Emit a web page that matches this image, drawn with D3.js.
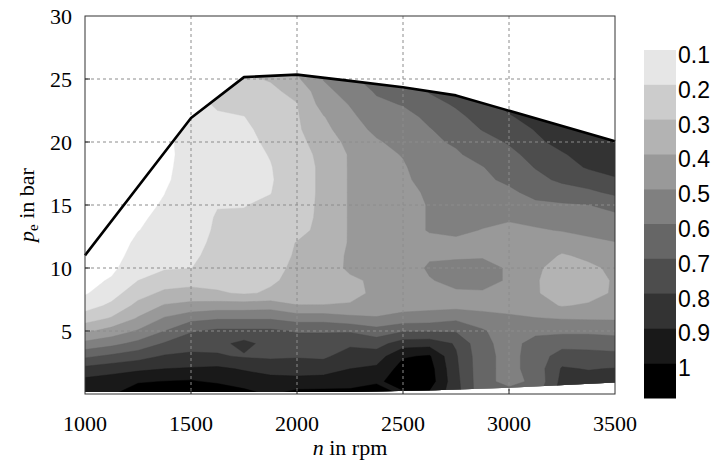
<!DOCTYPE html>
<html>
<head>
<meta charset="utf-8">
<script src="https://cdn.jsdelivr.net/npm/d3@7"></script>
<style>
  html, body { margin: 0; padding: 0; background: #fff; }
  svg { display: block; }
</style>
</head>
<body>
<div id="chart"></div>
<script>
// measurement grid: engine speed (rpm) x brake mean effective pressure (bar)
const rpmGrid = [1000, 1125, 1250, 1375, 1500, 1625, 1750, 1875, 2000, 2125, 2250,
                 2375, 2500, 2625, 2750, 2875, 3000, 3125, 3250, 3375, 3500];
const peGrid = [0, 1, 2, 3, 4, 5, 6, 7, 8, 9, 10, 11, 12, 13, 14, 15, 16, 17, 18, 19, 20,
                21, 22, 23, 24, 25, 26];

// one column per rpmGrid entry, values read at peGrid
const zColumns = [
  [0.97, 0.93, 0.83, 0.68, 0.53, 0.38, 0.25, 0.16, 0.09, 0.07, 0.06, 0.05, 0.05, 0.05, 0.05, 0.05, 0.05, 0.05, 0.05, 0.05, 0.05, 0.05, 0.05, 0.05, 0.05, 0.05, 0.05],
  [0.99, 0.95, 0.86, 0.72, 0.57, 0.44, 0.31, 0.22, 0.16, 0.11, 0.08, 0.07, 0.06, 0.06, 0.06, 0.06, 0.06, 0.06, 0.06, 0.06, 0.06, 0.06, 0.06, 0.06, 0.06, 0.06, 0.06],
  [1.06, 0.99, 0.88, 0.76, 0.63, 0.51, 0.41, 0.33, 0.26, 0.2, 0.16, 0.13, 0.115, 0.098, 0.09, 0.085, 0.08, 0.08, 0.08, 0.08, 0.08, 0.08, 0.08, 0.08, 0.08, 0.08, 0.08],
  [1.12, 1.002, 0.9, 0.81, 0.71, 0.6, 0.51, 0.41, 0.32, 0.25, 0.19, 0.16, 0.14, 0.125, 0.115, 0.105, 0.099, 0.09, 0.085, 0.08, 0.08, 0.08, 0.08, 0.08, 0.08, 0.08, 0.08],
  [1.15, 1.01, 0.91, 0.82, 0.76, 0.69, 0.57, 0.43, 0.34, 0.26, 0.198, 0.18, 0.165, 0.155, 0.145, 0.14, 0.135, 0.13, 0.13, 0.13, 0.135, 0.14, 0.15, 0.17, 0.19, 0.21, 0.23],
  [1.1, 0.98, 0.92, 0.81, 0.77, 0.72, 0.59, 0.45, 0.31, 0.27, 0.245, 0.235, 0.225, 0.215, 0.21, 0.195, 0.175, 0.16, 0.155, 0.155, 0.16, 0.17, 0.19, 0.21, 0.23, 0.25, 0.27],
  [1.03, 0.96, 0.89, 0.79, 0.83, 0.72, 0.59, 0.45, 0.29, 0.265, 0.255, 0.245, 0.235, 0.225, 0.21, 0.197, 0.18, 0.17, 0.165, 0.165, 0.17, 0.18, 0.198, 0.23, 0.26, 0.29, 0.32],
  [0.99, 0.93, 0.87, 0.78, 0.76, 0.72, 0.59, 0.46, 0.31, 0.29, 0.285, 0.28, 0.275, 0.265, 0.245, 0.215, 0.197, 0.19, 0.195, 0.205, 0.22, 0.235, 0.25, 0.265, 0.285, 0.305, 0.33],
  [1.04, 0.93, 0.86, 0.79, 0.75, 0.69, 0.56, 0.405, 0.34, 0.32, 0.31, 0.305, 0.302, 0.285, 0.275, 0.27, 0.265, 0.265, 0.265, 0.27, 0.275, 0.285, 0.29, 0.297, 0.32, 0.385, 0.42],
  [1.04, 0.94, 0.86, 0.78, 0.75, 0.69, 0.56, 0.405, 0.35, 0.33, 0.34, 0.33, 0.32, 0.315, 0.315, 0.315, 0.315, 0.315, 0.315, 0.32, 0.34, 0.37, 0.395, 0.44, 0.47, 0.505, 0.54],
  [1.03, 0.96, 0.9, 0.85, 0.78, 0.69, 0.53, 0.41, 0.37, 0.38, 0.42, 0.42, 0.41, 0.41, 0.41, 0.41, 0.41, 0.41, 0.41, 0.41, 0.43, 0.46, 0.48, 0.505, 0.54, 0.58, 0.62],
  [1.08, 0.98, 0.92, 0.85, 0.76, 0.64, 0.51, 0.44, 0.42, 0.42, 0.43, 0.43, 0.43, 0.43, 0.43, 0.43, 0.43, 0.44, 0.45, 0.47, 0.49, 0.52, 0.55, 0.58, 0.61, 0.64, 0.67],
  [0.98, 1.05, 1.04, 0.99, 0.85, 0.69, 0.54, 0.46, 0.44, 0.45, 0.46, 0.46, 0.46, 0.47, 0.47, 0.47, 0.48, 0.485, 0.49, 0.505, 0.53, 0.55, 0.57, 0.605, 0.64, 0.68, 0.71],
  [0.98, 1.05, 1.04, 1.01, 0.86, 0.69, 0.55, 0.47, 0.47, 0.495, 0.51, 0.49, 0.48, 0.505, 0.505, 0.505, 0.51, 0.53, 0.55, 0.57, 0.585, 0.595, 0.62, 0.67, 0.705, 0.75, 0.79],
  [0.84, 0.83, 0.82, 0.81, 0.79, 0.69, 0.58, 0.47, 0.49, 0.52, 0.52, 0.49, 0.485, 0.515, 0.52, 0.54, 0.55, 0.56, 0.57, 0.59, 0.61, 0.64, 0.68, 0.71, 0.74, 0.77, 0.8],
  [0.63, 0.63, 0.63, 0.63, 0.62, 0.61, 0.55, 0.46, 0.49, 0.53, 0.53, 0.49, 0.48, 0.497, 0.52, 0.54, 0.56, 0.58, 0.597, 0.63, 0.66, 0.705, 0.73, 0.76, 0.79, 0.82, 0.85],
  [0.64, 0.57, 0.57, 0.57, 0.57, 0.55, 0.52, 0.46, 0.47, 0.49, 0.49, 0.48, 0.46, 0.48, 0.51, 0.54, 0.58, 0.62, 0.64, 0.67, 0.71, 0.75, 0.79, 0.83, 0.87, 0.9, 0.93],
  [0.66, 0.62, 0.64, 0.64, 0.63, 0.58, 0.505, 0.43, 0.41, 0.41, 0.42, 0.45, 0.47, 0.49, 0.53, 0.58, 0.63, 0.67, 0.705, 0.74, 0.78, 0.805, 0.84, 0.87, 0.9, 0.93, 0.96],
  [0.85, 0.83, 0.81, 0.75, 0.66, 0.58, 0.495, 0.395, 0.35, 0.34, 0.35, 0.39, 0.45, 0.505, 0.55, 0.59, 0.65, 0.72, 0.76, 0.79, 0.83, 0.86, 0.89, 0.92, 0.95, 0.98, 1.0],
  [0.85, 0.84, 0.795, 0.74, 0.66, 0.58, 0.49, 0.41, 0.37, 0.36, 0.38, 0.42, 0.47, 0.53, 0.56, 0.598, 0.68, 0.75, 0.81, 0.84, 0.87, 0.9, 0.93, 0.96, 0.99, 1.0, 1.0],
  [0.86, 0.85, 0.805, 0.73, 0.65, 0.57, 0.49, 0.43, 0.41, 0.41, 0.42, 0.46, 0.497, 0.53, 0.57, 0.64, 0.72, 0.79, 0.83, 0.86, 0.89, 0.92, 0.95, 0.98, 1.0, 1.0, 1.0]
];

// full-load curve and lowest measured load
const fullLoadRpm = [1000, 1500, 1750, 2000, 2250, 2500, 2750, 3500];
const fullLoadPe = [11.0, 21.9, 25.15, 25.35, 24.85, 24.35, 23.7, 20.05];
const minLoadRpm = [1000, 2250, 2650, 3000, 3500];
const minLoadPe = [0.15, 0.15, 0.3, 0.5, 0.92];

const levels = [0.1, 0.2, 0.3, 0.4, 0.5, 0.6, 0.7, 0.8, 0.9, 1.0];
const levelLabels = ['0.1', '0.2', '0.3', '0.4', '0.5', '0.6', '0.7', '0.8', '0.9', '1'];
const xTicks = [1000, 1500, 2000, 2500, 3000, 3500];
const yTicks = [5, 10, 15, 20, 25, 30];

const SERIF = '"Liberation Serif", "Times New Roman", "DejaVu Serif", serif';
const SANS = '"Liberation Sans", Arial, Helvetica, sans-serif';

const W = 714, H = 473;
const plot = { left: 85, top: 16, right: 615, bottom: 394 };
const bar = { left: 644, right: 676, top: 50, bottom: 398 };

const x = d3.scaleLinear().domain([1000, 3500]).range([plot.left, plot.right]);
const y = d3.scaleLinear().domain([0, 30]).range([plot.bottom, plot.top]);
const shade = t => { const g = Math.round(255 * (1 - t)); return d3.rgb(g, g, g).toString(); };

const svg = d3.select('#chart').append('svg')
  .attr('width', W).attr('height', H);

// region actually measured: below full load, above minimum load
const region = fullLoadRpm.map((r, i) => [r, fullLoadPe[i]])
  .concat(minLoadRpm.map((r, i) => [r, minLoadPe[i]]).reverse());
const line = d3.line().x(d => x(d[0])).y(d => y(d[1]));

svg.append('clipPath').attr('id', 'map-clip')
  .append('path').attr('d', line(region) + 'Z');

// filled contours
const nx = rpmGrid.length, ny = peGrid.length;
const values = new Array(nx * ny);
for (let j = 0; j < ny; j++) {
  for (let i = 0; i < nx; i++) values[j * nx + i] = zColumns[i][j];
}
const gridX = d3.scaleLinear().domain([0.5, nx - 0.5]).range([rpmGrid[0], rpmGrid[nx - 1]]);
const gridY = d3.scaleLinear().domain([0.5, ny - 0.5]).range([peGrid[0], peGrid[ny - 1]]);
const toScreen = d3.geoTransform({
  point(gx, gy) { this.stream.point(x(gridX(gx)), y(gridY(gy))); }
});
const contourPath = d3.geoPath(toScreen);
const bands = d3.contours().size([nx, ny]).thresholds(levels)(values);

svg.append('g').attr('clip-path', 'url(#map-clip)')
  .selectAll('path')
  .data(bands)
  .join('path')
  .attr('d', contourPath)
  .attr('fill', d => shade(d.value))
  .attr('stroke', d => shade(d.value))
  .attr('stroke-width', 0.4);

// dashed grid
const grid = svg.append('g')
  .attr('stroke', '#8c8c8c').attr('stroke-width', 1).attr('stroke-dasharray', '3,3');
xTicks.slice(1, -1).forEach(t => {
  grid.append('line').attr('x1', x(t)).attr('x2', x(t)).attr('y1', plot.top).attr('y2', plot.bottom);
});
yTicks.slice(0, -1).forEach(t => {
  grid.append('line').attr('x1', plot.left).attr('x2', plot.right).attr('y1', y(t)).attr('y2', y(t));
});

// full-load line
svg.append('path')
  .attr('d', line(fullLoadRpm.map((r, i) => [r, fullLoadPe[i]])))
  .attr('fill', 'none').attr('stroke', '#000').attr('stroke-width', 2.6)
  .attr('stroke-linejoin', 'round');

// frame and inward ticks
svg.append('rect')
  .attr('x', plot.left).attr('y', plot.top)
  .attr('width', plot.right - plot.left).attr('height', plot.bottom - plot.top)
  .attr('fill', 'none').attr('stroke', '#333').attr('stroke-width', 1);
const ticks = svg.append('g').attr('stroke', '#222').attr('stroke-width', 1);
xTicks.slice(1, -1).forEach(t => {
  ticks.append('line').attr('x1', x(t)).attr('x2', x(t)).attr('y1', plot.bottom).attr('y2', plot.bottom - 5);
});
yTicks.slice(0, -1).forEach(t => {
  ticks.append('line').attr('x1', plot.left).attr('x2', plot.left + 5).attr('y1', y(t)).attr('y2', y(t));
});

// tick labels
const serifText = sel => sel.style('font-family', SERIF).style('font-size', '22px').attr('fill', '#000');
svg.append('g').selectAll('text').data(xTicks).join('text')
  .call(serifText).attr('x', d => x(d)).attr('y', 431)
  .attr('text-anchor', 'middle').text(d => d);
svg.append('g').selectAll('text').data(yTicks).join('text')
  .call(serifText).attr('x', 72).attr('y', d => y(d) + 7.5)
  .attr('text-anchor', 'end').text(d => d);

// axis titles
const xTitle = svg.append('text').call(serifText)
  .attr('x', (plot.left + plot.right) / 2).attr('y', 455).attr('text-anchor', 'middle');
xTitle.append('tspan').style('font-style', 'italic').text('n');
xTitle.append('tspan').text(' in rpm');

const yTitle = svg.append('text').call(serifText)
  .attr('transform', `translate(34,${(plot.top + plot.bottom) / 2}) rotate(-90)`)
  .attr('text-anchor', 'middle');
yTitle.append('tspan').style('font-style', 'italic').text('p');
yTitle.append('tspan').style('font-size', '15px').attr('dy', 4).text('e');
yTitle.append('tspan').attr('dy', -4).text(' in bar');

// colour bar
const cb = d3.scaleBand().domain(levels).range([bar.top, bar.bottom]).padding(0);
svg.append('g').selectAll('rect').data(levels).join('rect')
  .attr('x', bar.left).attr('y', d => cb(d))
  .attr('width', bar.right - bar.left).attr('height', cb.bandwidth() + 0.5)
  .attr('fill', d => shade(d));
svg.append('g').selectAll('text').data(levels).join('text')
  .style('font-family', SANS).style('font-size', '23px').attr('fill', '#000')
  .attr('x', bar.right + 2).attr('y', d => cb(d) + 13)
  .text((d, i) => levelLabels[i]);
</script>
</body>
</html>
